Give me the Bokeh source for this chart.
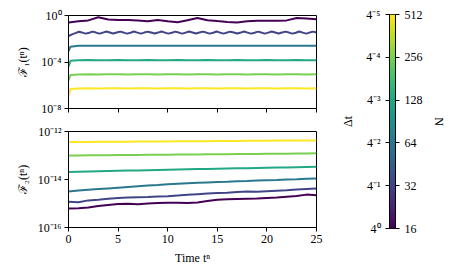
import numpy as np
from bokeh.plotting import figure
from bokeh.layouts import row, column
from bokeh.models import FixedTicker, CustomJSTickFormatter, LinearAxis, Range1d
from bokeh.palettes import Viridis256
from bokeh.embed import file_html
from bokeh.resources import INLINE

# ---------------- data ----------------
N_values = [16, 32, 64, 128, 256, 512]
colors = ["#440154", "#414487", "#2a788e", "#22a884", "#7ad151", "#fde725"]
dt_labels = ["4⁰", "4⁻¹", "4⁻²", "4⁻³", "4⁻⁴", "4⁻⁵"]
N_labels = ["16", "32", "64", "128", "256", "512"]

x_ticks = [0, 5, 10, 15, 20, 25]
top_yticks = [1e-8, 1e-4, 1e0]
top_ylabels = ["10⁻⁸", "10⁻⁴", "10⁰"]
bot_yticks = [1e-16, 1e-14, 1e-12]
bot_ylabels = ["10⁻¹⁶", "10⁻¹⁴", "10⁻¹²"]

# time grids
t_top = [0.0, 0.2] + list(range(1, 26))
t_fine = list(np.linspace(0, 25, 73))
t_bot = list(range(0, 26))

# log10 of F1 (top panel)
F1_N16 = [-0.60, -0.58, -0.50, -0.42, -0.15, -0.35, -0.38, -0.38, -0.42, -0.50,
          -0.38, -0.50, -0.58, -0.40, -0.22, -0.40, -0.48, -0.55, -0.60, -0.50,
          -0.46, -0.46, -0.46, -0.42, -0.22, -0.25, -0.32]
F1_N32 = [-1.78, -1.62, -1.52, -1.40, -1.47, -1.56, -1.48, -1.39,
          -1.47, -1.56, -1.47, -1.38, -1.46, -1.55, -1.47, -1.39,
          -1.47, -1.56, -1.48, -1.38, -1.47, -1.56, -1.47, -1.39,
          -1.46, -1.55, -1.47, -1.38, -1.47, -1.56, -1.48, -1.39,
          -1.47, -1.56, -1.47, -1.38, -1.46, -1.55, -1.47, -1.39,
          -1.47, -1.56, -1.48, -1.38, -1.47, -1.56, -1.47, -1.39,
          -1.46, -1.55, -1.47, -1.38, -1.47, -1.56, -1.48, -1.39,
          -1.47, -1.56, -1.47, -1.38, -1.46, -1.55, -1.47, -1.39,
          -1.47, -1.56, -1.48, -1.38, -1.47, -1.56, -1.47, -1.39,
          -1.47]
F1_N64 = [-3.05, -2.68,
          -2.61, -2.60, -2.60, -2.61, -2.60, -2.60, -2.61, -2.60, -2.60, -2.61,
          -2.60, -2.60, -2.61, -2.60, -2.60, -2.61, -2.60, -2.60, -2.61, -2.60,
          -2.60, -2.61, -2.60, -2.60, -2.61]
F1_N128 = [-4.40, -3.90,
           -3.85, -3.83, -3.85, -3.84, -3.83, -3.85, -3.84, -3.83, -3.85, -3.84,
           -3.83, -3.85, -3.84, -3.83, -3.85, -3.84, -3.83, -3.85, -3.84, -3.83,
           -3.85, -3.84, -3.83, -3.85, -3.84]
F1_N256 = [-5.60, -5.12,
           -5.07, -5.05, -5.07, -5.06, -5.05, -5.07, -5.06, -5.05, -5.07, -5.06,
           -5.05, -5.07, -5.06, -5.05, -5.07, -5.06, -5.05, -5.07, -5.06, -5.05,
           -5.07, -5.06, -5.05, -5.07, -5.06]
F1_N512 = [-6.90, -6.32,
           -6.27, -6.25, -6.27, -6.26, -6.25, -6.27, -6.26, -6.25, -6.27, -6.26,
           -6.25, -6.27, -6.26, -6.25, -6.27, -6.26, -6.25, -6.27, -6.26, -6.25,
           -6.27, -6.26, -6.25, -6.27, -6.26]

# log10 of F2 (bottom panel)
F2_N16 = [-15.21, -15.20, -15.17, -15.10, -15.06, -15.02, -15.01, -15.03, -15.00, -14.98,
          -14.97, -14.97, -14.98, -14.96, -14.90, -14.84, -14.82, -14.81, -14.80, -14.79,
          -14.77, -14.75, -14.72, -14.69, -14.63, -14.66]
F2_N32 = [-14.93, -14.95, -14.87, -14.84, -14.80, -14.77, -14.75, -14.74, -14.73, -14.71,
          -14.70, -14.67, -14.64, -14.61, -14.58, -14.56, -14.55, -14.52, -14.50, -14.51,
          -14.49, -14.47, -14.45, -14.42, -14.40, -14.38]
F2_N64 = [-14.50, -14.46, -14.43, -14.40, -14.37, -14.34, -14.31, -14.28, -14.25, -14.23,
          -14.20, -14.18, -14.16, -14.14, -14.12, -14.10, -14.09, -14.07, -14.06, -14.04,
          -14.03, -14.02, -14.00, -13.99, -13.97, -13.96]
F2_N128 = [-13.69, -13.68, -13.67, -13.66, -13.65, -13.64, -13.63, -13.62, -13.61, -13.60,
           -13.59, -13.58, -13.57, -13.565, -13.56, -13.55, -13.54, -13.535, -13.53, -13.52,
           -13.51, -13.505, -13.50, -13.49, -13.48, -13.47]
F2_N256 = [-13.00, -13.00, -12.99, -12.99, -12.99, -12.98, -12.98, -12.98, -12.97, -12.97,
           -12.97, -12.96, -12.96, -12.96, -12.95, -12.95, -12.95, -12.94, -12.94, -12.94,
           -12.93, -12.93, -12.93, -12.92, -12.92, -12.91]
F2_N512 = [-12.44, -12.44, -12.44, -12.43, -12.43, -12.43, -12.43, -12.42, -12.42, -12.42,
           -12.42, -12.41, -12.41, -12.41, -12.41, -12.40, -12.40, -12.40, -12.39, -12.39,
           -12.39, -12.38, -12.38, -12.38, -12.37, -12.37]

top_series = [(t_top, F1_N16), (t_fine, F1_N32), (t_top, F1_N64),
              (t_top, F1_N128), (t_top, F1_N256), (t_top, F1_N512)]
bot_series = [(t_bot, F2_N16), (t_bot, F2_N32), (t_bot, F2_N64),
              (t_bot, F2_N128), (t_bot, F2_N256), (t_bot, F2_N512)]

# ---------------- style ----------------
FONT = "Liberation Serif"
FS = "12px"


def label_formatter(tvals, labels, log=False):
    code = """
        let best = 0, bd = Infinity;
        for (let i = 0; i < tv.length; i++) {
            const d = LOG ? Math.abs(Math.log10(tick) - Math.log10(tv[i]))
                          : Math.abs(tick - tv[i]);
            if (d < bd) { bd = d; best = i; }
        }
        return lb[best];
    """.replace("LOG", "true" if log else "false")
    return CustomJSTickFormatter(args=dict(tv=tvals, lb=labels), code=code)


def style_axis(ax):
    ax.axis_line_color = "black"
    ax.axis_line_width = 1
    ax.major_tick_line_color = "black"
    ax.major_tick_out = 4
    ax.major_tick_in = 0
    ax.minor_tick_line_color = None
    ax.major_label_text_font = FONT
    ax.major_label_text_font_size = FS
    ax.major_label_text_color = "black"
    ax.major_label_standoff = 3
    ax.axis_label_text_font = FONT
    ax.axis_label_text_font_size = FS
    ax.axis_label_text_font_style = "normal"
    ax.axis_label_text_color = "black"


def base_fig(**kw):
    p = figure(output_backend="svg", toolbar_location=None, **kw)
    p.grid.visible = False
    p.outline_line_color = "black"
    p.outline_line_width = 1
    p.background_fill_color = "white"
    p.border_fill_color = "white"
    return p


# top panel
p1 = base_fig(width=338, height=123, x_range=Range1d(0, 25), y_range=Range1d(1e-8, 1),
              y_axis_type="log", min_border_left=68, min_border_right=22,
              min_border_top=15, min_border_bottom=15)
for (t, v), c in zip(top_series, colors):
    p1.line(t, 10 ** np.array(v), line_color=c, line_width=2)
for ax in p1.axis:
    style_axis(ax)
p1.xaxis.ticker = FixedTicker(ticks=x_ticks)
p1.xaxis.formatter = CustomJSTickFormatter(code="return ''")
p1.xaxis.major_label_standoff = 0
p1.yaxis.ticker = FixedTicker(ticks=top_yticks)
p1.yaxis.formatter = label_formatter(top_yticks, top_ylabels, log=True)
p1.yaxis.axis_label = "ℱ₁(tⁿ)"
p1.yaxis.axis_label_standoff = 8

# bottom panel
p2 = base_fig(width=338, height=152, x_range=Range1d(0, 25), y_range=Range1d(1e-16, 1e-12),
              y_axis_type="log", min_border_left=68, min_border_right=22,
              min_border_top=8, min_border_bottom=48)
for (t, v), c in zip(bot_series, colors):
    p2.line(t, 10 ** np.array(v), line_color=c, line_width=2)
for ax in p2.axis:
    style_axis(ax)
p2.xaxis.ticker = FixedTicker(ticks=x_ticks)
p2.xaxis.axis_label = "Time tⁿ"
p2.xaxis.axis_label_standoff = 5
p2.yaxis.ticker = FixedTicker(ticks=bot_yticks)
p2.yaxis.formatter = label_formatter(bot_yticks, bot_ylabels, log=True)
p2.yaxis.axis_label = "ℱ₂(tⁿ)"
p2.yaxis.axis_label_standoff = 5

# colorbar
levels = list(range(len(N_values)))
pc = base_fig(width=113, height=275, x_range=Range1d(0, 1), y_range=Range1d(0, levels[-1]),
              x_axis_location=None, min_border_left=45, min_border_right=56,
              min_border_top=14, min_border_bottom=47)
grad = np.linspace(0, 1, 256).reshape(256, 1)
pc.image(image=[grad], x=0, y=0, dw=1, dh=levels[-1], palette=Viridis256)
style_axis(pc.yaxis[0])
pc.yaxis.ticker = FixedTicker(ticks=levels)
pc.yaxis.formatter = label_formatter(levels, dt_labels)
pc.yaxis.axis_label = "Δt"
pc.yaxis.major_label_standoff = 5
pc.yaxis.axis_label_standoff = 8
rax = LinearAxis(ticker=FixedTicker(ticks=levels), formatter=label_formatter(levels, N_labels),
                 axis_label="N")
style_axis(rax)
rax.major_label_standoff = 5
rax.axis_label_standoff = 6
pc.add_layout(rax, "right")

layout = row(column(p1, p2), pc)
open("out.html", "w").write(file_html(layout, INLINE))
